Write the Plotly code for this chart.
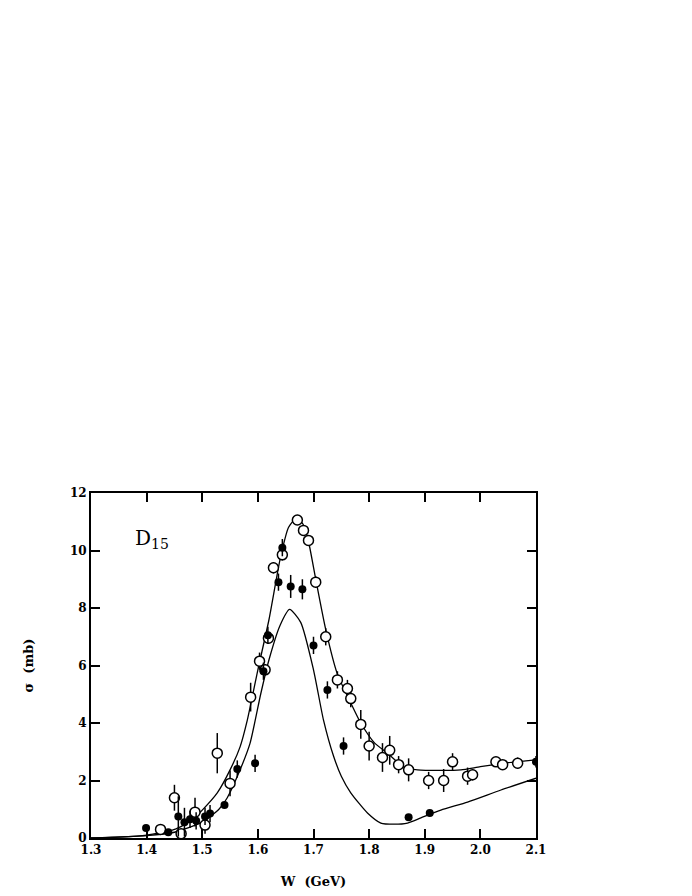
import plotly.graph_objects as go

# ── Data ─────────────────────────────────────────────────────────────────────
# open circles (W in GeV, sigma in mb, error)
open_w = [1.425, 1.450, 1.462, 1.487, 1.505, 1.527, 1.550, 1.587, 1.603, 1.613,
          1.619, 1.628, 1.644, 1.671, 1.682, 1.691, 1.704, 1.722, 1.743, 1.761,
          1.767, 1.785, 1.800, 1.824, 1.837, 1.853, 1.871, 1.907, 1.934, 1.950,
          1.977, 1.986, 2.028, 2.040, 2.067]
open_sig = [0.30, 1.40, 0.15, 0.90, 0.45, 2.95, 1.90, 4.90, 6.15, 5.85,
            6.95, 9.40, 9.85, 11.06, 10.70, 10.35, 8.90, 7.00, 5.50, 5.20,
            4.85, 3.95, 3.20, 2.80, 3.05, 2.55, 2.37, 2.00, 2.00, 2.65,
            2.15, 2.20, 2.65, 2.55, 2.60]
open_err = [0.15, 0.45, 0.10, 0.50, 0.30, 0.70, 0.45, 0.50, 0.30, 0.20,
            0.20, 0.20, 0.20, 0.10, 0.15, 0.15, 0.20, 0.30, 0.30, 0.30,
            0.30, 0.50, 0.50, 0.50, 0.50, 0.30, 0.40, 0.30, 0.40, 0.30,
            0.30, 0.20, 0.15, 0.15, 0.20]

# filled circles
full_w = [1.399, 1.439, 1.457, 1.468, 1.478, 1.489, 1.505, 1.514, 1.540, 1.563,
          1.595, 1.610, 1.618, 1.637, 1.644, 1.659, 1.680, 1.700, 1.725, 1.754,
          1.871, 1.909, 2.100]
full_sig = [0.35, 0.20, 0.75, 0.55, 0.65, 0.60, 0.75, 0.85, 1.15, 2.40,
            2.60, 5.80, 7.05, 8.90, 10.10, 8.75, 8.65, 6.70, 5.15, 3.20,
            0.72, 0.87, 2.65]
full_err = [0.10, 0.05, 0.70, 0.50, 0.30, 0.30, 0.30, 0.30, 0.10, 0.30,
            0.30, 0.30, 0.30, 0.30, 0.30, 0.40, 0.35, 0.30, 0.30, 0.30,
            0.05, 0.05, 0.20]

# upper curve
upper_w = [1.30, 1.35, 1.40, 1.45, 1.48, 1.50, 1.527, 1.55, 1.568, 1.581,
           1.60, 1.62, 1.64, 1.655, 1.668, 1.68, 1.69, 1.704, 1.722, 1.743,
           1.767, 1.785, 1.81, 1.833, 1.862, 1.887, 1.93, 1.965, 2.00, 2.05, 2.10]
upper_sig = [0.00, 0.03, 0.10, 0.30, 0.60, 0.97, 1.57, 2.37, 3.17, 4.10,
             5.85, 7.60, 9.70, 10.80, 11.10, 10.95, 10.40, 9.00, 7.25, 5.70,
             4.70, 4.00, 3.30, 2.95, 2.47, 2.37, 2.35, 2.37, 2.48, 2.62, 2.72]

# lower curve
lower_w = [1.30, 1.40, 1.45, 1.50, 1.53, 1.545, 1.568, 1.586, 1.605, 1.62,
           1.64, 1.657, 1.677, 1.70, 1.718, 1.736, 1.75, 1.767, 1.797, 1.821,
           1.845, 1.869, 1.893, 1.929, 1.977, 2.037, 2.10]
lower_sig = [0.00, 0.08, 0.20, 0.55, 1.00, 1.40, 2.37, 3.30, 5.00, 6.20,
             7.40, 7.95, 7.50, 5.85, 4.10, 2.85, 2.15, 1.57, 0.87, 0.52,
             0.48, 0.52, 0.70, 0.97, 1.25, 1.67, 2.08]

# ── Figure ───────────────────────────────────────────────────────────────────
fig = go.Figure()

fig.add_trace(go.Scatter(
    x=upper_w, y=upper_sig, mode="lines",
    line=dict(color="black", width=1.3, shape="spline", smoothing=0.6),
    hoverinfo="skip",
))
fig.add_trace(go.Scatter(
    x=lower_w, y=lower_sig, mode="lines",
    line=dict(color="black", width=1.3, shape="spline", smoothing=0.6),
    hoverinfo="skip",
))
fig.add_trace(go.Scatter(
    x=open_w, y=open_sig, mode="markers",
    error_y=dict(type="data", array=open_err, color="black", thickness=1.5, width=0),
    marker=dict(symbol="circle", size=10, color="white",
                line=dict(color="black", width=1.5)),
))
fig.add_trace(go.Scatter(
    x=full_w, y=full_sig, mode="markers",
    error_y=dict(type="data", array=full_err, color="black", thickness=1.5, width=0),
    marker=dict(symbol="circle", size=8, color="black"),
))

tick_font = dict(family="DejaVu Serif", size=12, color="black", weight="bold")
title_font = dict(family="DejaVu Serif", size=13, color="black", weight="bold")

# page body adds an 8px offset, so margins are shifted to compensate
fig.update_layout(
    width=692, height=896,
    paper_bgcolor="white", plot_bgcolor="white",
    showlegend=False,
    margin=dict(l=83, r=164, t=485, b=66),
    font=dict(family="DejaVu Serif", color="black"),
    xaxis=dict(
        range=[1.3, 2.1], tickvals=[1.3, 1.4, 1.5, 1.6, 1.7, 1.8, 1.9, 2.0, 2.1],
        ticktext=["1.3", "1.4", "1.5", "1.6", "1.7", "1.8", "1.9", "2.0", "2.1"],
        ticks="inside", ticklen=9, tickwidth=2, tickcolor="black",
        showline=True, linecolor="black", linewidth=2, mirror="ticks",
        showgrid=False, zeroline=False, tickfont=tick_font,
        title=dict(text="W  (GeV)", font=title_font, standoff=20),
    ),
    yaxis=dict(
        range=[0, 12], tickvals=[0, 2, 4, 6, 8, 10, 12],
        ticks="inside", ticklen=9, tickwidth=2, tickcolor="black",
        showline=True, linecolor="black", linewidth=2, mirror="ticks",
        showgrid=False, zeroline=False, tickfont=tick_font,
        title=dict(text="σ  (mb)", font=title_font, standoff=33),
    ),
    annotations=[dict(
        x=1.41, y=10.4, xref="x", yref="y", showarrow=False,
        text="D<sub>15</sub>",
        font=dict(family="DejaVu Serif", size=20, color="black"),
    )],
)

fig.write_html("out.html")
